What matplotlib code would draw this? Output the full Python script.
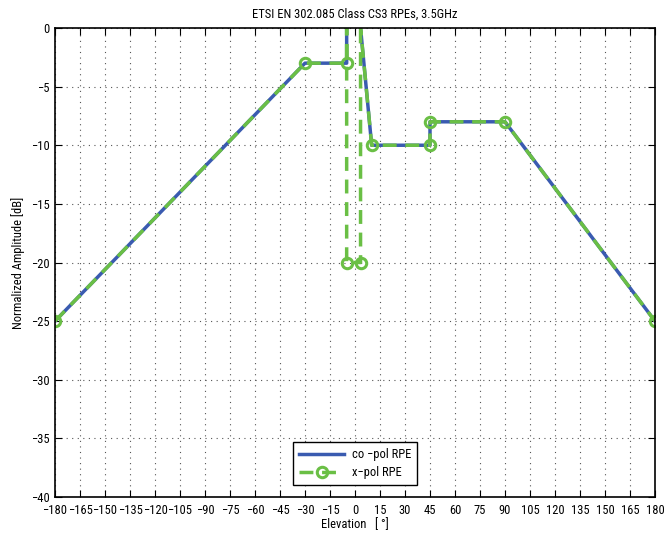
import numpy as np
import matplotlib
matplotlib.use('Agg')
import matplotlib.pyplot as plt
from matplotlib import font_manager

# co-pol RPE mask
co_x = [-180, -30, -5, -5, 0, 10, 45, 45, 90, 180]
co_y = [-25, -3, -3, 5, 5, -10, -10, -8, -8, -25]

# x-pol RPE mask
x_x = [-180, -30, -5, -5, -5, 3.33, 3.33, 0, 10, 45, 45, 90, 180]
x_y = [-25, -3, -3, 5, -20, -20, 5, 5, -10, -10, -8, -8, -25]

xticks = list(range(-180, 181, 15))
yticks = list(range(-40, 1, 5))

# pick a narrow font if there is one
have = set(f.name for f in font_manager.fontManager.ttflist)
narrow = [n for n in ['Liberation Sans Narrow', 'Roboto Condensed', 'PT Sans Narrow',
                      'Open Sans Condensed', 'Archivo Narrow', 'Encode Sans Condensed',
                      'Fira Sans Condensed', 'IBM Plex Sans Condensed'] if n in have]
plt.rcParams['font.family'] = narrow[:1] + ['DejaVu Sans']
plt.rcParams['font.size'] = 9

fig = plt.figure(figsize=(6.7, 5.33), dpi=100)
ax = fig.add_axes([0.0821, 0.0675, 0.8955, 0.880])

ax.plot(co_x, co_y, color='#3a5bb0', lw=2.5, label='co \u2212pol RPE')
ax.plot(x_x, x_y, color='#6abf45', lw=2.5, ls=(0, (4, 2.5)), marker='o',
        ms=7.5, mfc='none', mec='#6abf45', mew=2.2, label='x\u2212pol RPE')

ax.set_xlim(-180, 180)
ax.set_ylim(-40, 0)
ax.set_xticks(xticks)
ax.set_xticklabels([str(v).replace('-', '\u2212') for v in xticks])
ax.set_yticks(yticks)
ax.set_yticklabels([str(v).replace('-', '\u2212') for v in yticks])
ax.tick_params(direction='in', top=True, right=True, length=5)
ax.tick_params(axis='x', pad=5)
ax.tick_params(axis='y', pad=4)
ax.grid(True, ls=(0, (1, 4)), color='#555555', lw=0.8)
for s in ax.spines.values():
    s.set_linewidth(1.2)

ax.set_title('ETSI EN 302.085 Class CS3 RPEs, 3.5GHz', fontsize=9, pad=7)
ax.set_xlabel('Elevation   [ \u00b0]', labelpad=1)
ax.set_ylabel('Normalized Amplitude [dB]', labelpad=4)

leg = ax.legend(loc='lower center', bbox_to_anchor=(0.5, 0.012), fancybox=False,
                edgecolor='black', framealpha=1, handlelength=3.6, fontsize=9,
                borderpad=0.5, labelspacing=0.4, handletextpad=0.6)
leg.get_frame().set_linewidth(1.0)

fig.savefig('out.png', dpi=100)
